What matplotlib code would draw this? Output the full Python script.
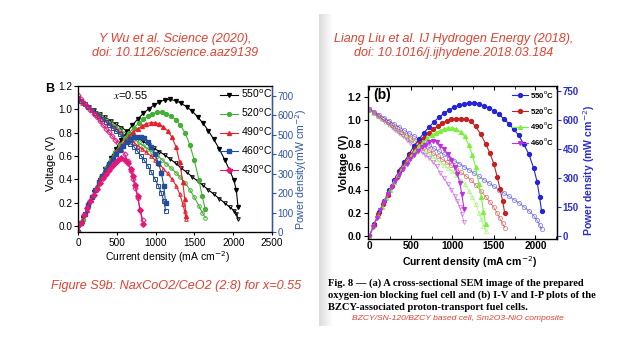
import numpy as np
import matplotlib.pyplot as plt

plt.rcParams['font.family'] = ['Liberation Sans', 'DejaVu Sans']

# ---- left chart: Wu et al. Science 2020, Fig. S9b (x=0.55) ----
wu_temps = ['550', '520', '490', '460', '430']
wu_i550 = [0, 70, 140, 210, 280, 350, 420, 490, 560, 630, 700, 770, 840, 910, 980, 1050, 1120,
           1190, 1260, 1330, 1400, 1470, 1540, 1610, 1680, 1750, 1820, 1890, 1960, 2010, 2040, 2063]
wu_v550 = [1.080, 1.050, 1.021, 0.991, 0.962, 0.932, 0.903, 0.873, 0.844, 0.814, 0.785, 0.755, 0.726,
           0.696, 0.666, 0.637, 0.607, 0.573, 0.536, 0.498, 0.460, 0.423, 0.385, 0.348, 0.310, 0.272,
           0.235, 0.197, 0.159, 0.132, 0.105, 0.062]
wu_p550 = [0, 74, 143, 208, 269, 326, 379, 428, 473, 513, 549, 581, 610, 633, 653, 669, 680,
           682, 675, 662, 644, 622, 593, 560, 521, 476, 428, 372, 312, 265, 214, 128]

wu_i520 = [0, 60, 120, 180, 240, 300, 360, 420, 480, 540, 600, 660, 720, 780, 840, 900, 960,
           1020, 1080, 1140, 1200, 1260, 1320, 1380, 1440, 1500, 1560, 1600, 1640]
wu_v520 = [1.080, 1.052, 1.024, 0.996, 0.968, 0.940, 0.913, 0.885, 0.857, 0.829, 0.801, 0.773, 0.745,
           0.717, 0.689, 0.661, 0.633, 0.604, 0.569, 0.532, 0.496, 0.458, 0.416, 0.370, 0.312, 0.245,
           0.170, 0.115, 0.072]
wu_p520 = [0, 63, 123, 179, 232, 282, 329, 372, 411, 448, 481, 510, 536, 559, 579, 595, 608,
           616, 615, 606, 595, 577, 549, 511, 449, 368, 265, 184, 118]

wu_i490 = [0, 55, 110, 165, 220, 275, 330, 385, 440, 495, 550, 605, 660, 715, 770, 825, 880,
           935, 990, 1045, 1100, 1155, 1210, 1265, 1310, 1350, 1375, 1390]
wu_v490 = [1.085, 1.057, 1.028, 1.000, 0.972, 0.944, 0.915, 0.887, 0.859, 0.831, 0.802, 0.774, 0.746,
           0.718, 0.689, 0.661, 0.633, 0.602, 0.568, 0.532, 0.492, 0.450, 0.403, 0.345, 0.275, 0.190,
           0.125, 0.060]
wu_p490 = [0, 58, 113, 165, 214, 260, 302, 341, 378, 411, 441, 468, 492, 513, 531, 545, 557,
           563, 562, 556, 541, 520, 488, 436, 360, 257, 172, 83]

wu_i460 = [0, 45, 90, 135, 180, 225, 270, 315, 360, 405, 450, 495, 540, 585, 630, 675, 720,
           765, 810, 855, 900, 945, 990, 1035, 1075, 1105, 1130]
wu_v460 = [1.100, 1.074, 1.048, 1.021, 0.995, 0.969, 0.943, 0.916, 0.890, 0.864, 0.838, 0.811, 0.785,
           0.759, 0.733, 0.706, 0.680, 0.642, 0.603, 0.563, 0.515, 0.462, 0.405, 0.345, 0.280, 0.215,
           0.130]
wu_p460 = [0, 48, 94, 138, 179, 218, 255, 289, 320, 350, 377, 401, 424, 444, 462, 477, 490,
           491, 488, 481, 464, 437, 401, 357, 301, 238, 147]

wu_i430 = [0, 40, 80, 120, 160, 200, 240, 280, 320, 360, 400, 440, 480, 520, 560,
           600, 640, 680, 710, 740, 770, 800, 835]
wu_v430 = [1.120, 1.088, 1.057, 1.025, 0.993, 0.961, 0.930, 0.898, 0.866, 0.835, 0.803, 0.771, 0.739,
           0.708, 0.676, 0.620, 0.555, 0.475, 0.405, 0.325, 0.240, 0.140, 0.050]
wu_p430 = [0, 44, 85, 123, 159, 192, 223, 251, 277, 300, 321, 339, 355, 368, 379,
           372, 355, 323, 288, 241, 185, 112, 42]

# ---- right chart: Liu et al. IJ Hydrogen Energy 2018, Fig. 8b ----
liu_temps = ['550', '520', '490', '460']
liu_i550 = [0, 60, 120, 180, 240, 300, 360, 420, 480, 540, 600, 660, 720, 780, 840, 900, 960, 1020,
            1080, 1140, 1200, 1260, 1320, 1380, 1440, 1500, 1560, 1620, 1680, 1740, 1800, 1860, 1920,
            1980, 2020, 2050, 2075]
liu_v550 = [1.100, 1.074, 1.048, 1.021, 0.995, 0.969, 0.943, 0.916, 0.890, 0.864, 0.838, 0.812, 0.785,
            0.759, 0.733, 0.707, 0.680, 0.654, 0.628, 0.602, 0.574, 0.546, 0.518, 0.489, 0.461, 0.432,
            0.404, 0.375, 0.347, 0.318, 0.290, 0.256, 0.222, 0.178, 0.140, 0.100, 0.062]
liu_p550 = [0, 64, 126, 184, 239, 291, 339, 385, 427, 467, 503, 536, 565, 592, 616, 636, 653, 667,
            678, 686, 689, 688, 684, 675, 664, 648, 630, 608, 583, 553, 522, 476, 426, 352, 283, 205, 129]

liu_i520 = [0, 55, 110, 165, 220, 275, 330, 385, 440, 495, 550, 605, 660, 715, 770, 825, 880, 935,
            990, 1045, 1100, 1160, 1220, 1280, 1340, 1400, 1450, 1500, 1540, 1575, 1605, 1630]
liu_v520 = [1.090, 1.063, 1.037, 1.010, 0.984, 0.957, 0.931, 0.904, 0.877, 0.851, 0.824, 0.798, 0.771,
            0.745, 0.718, 0.692, 0.665, 0.638, 0.612, 0.583, 0.553, 0.522, 0.490, 0.444, 0.395, 0.343,
            0.298, 0.250, 0.200, 0.155, 0.115, 0.075]
liu_p520 = [0, 58, 114, 167, 216, 263, 307, 348, 386, 421, 453, 483, 509, 533, 553, 571, 585, 597,
            606, 609, 608, 606, 598, 568, 529, 480, 432, 375, 308, 244, 185, 122]

liu_i490 = [0, 50, 100, 150, 200, 250, 300, 350, 400, 450, 500, 550, 600, 650, 700, 750, 800, 850,
            900, 950, 1000, 1050, 1100, 1150, 1200, 1240, 1280, 1320, 1350, 1375, 1400]
liu_v490 = [1.090, 1.064, 1.038, 1.011, 0.985, 0.959, 0.933, 0.906, 0.880, 0.854, 0.828, 0.801, 0.775,
            0.749, 0.723, 0.696, 0.670, 0.644, 0.618, 0.590, 0.560, 0.527, 0.490, 0.450, 0.392, 0.340,
            0.280, 0.206, 0.150, 0.092, 0.047]
liu_p490 = [0, 53, 104, 152, 197, 240, 280, 317, 352, 384, 414, 441, 465, 487, 506, 522, 536, 547,
            556, 561, 560, 553, 539, 518, 470, 422, 358, 272, 203, 127, 66]

liu_i460 = [0, 45, 90, 135, 180, 225, 270, 315, 360, 405, 450, 495, 540, 585, 630, 675, 720,
            765, 810, 855, 900, 945, 990, 1030, 1060, 1090, 1115, 1140]
liu_v460 = [1.100, 1.074, 1.047, 1.021, 0.994, 0.968, 0.941, 0.915, 0.888, 0.862, 0.835, 0.809, 0.782,
            0.756, 0.730, 0.703, 0.677, 0.643, 0.605, 0.548, 0.500, 0.452, 0.400, 0.350, 0.305, 0.255,
            0.195, 0.125]
liu_p460 = [0, 48, 94, 138, 179, 218, 254, 288, 320, 349, 376, 400, 422, 442, 460, 474, 487,
            492, 490, 469, 450, 427, 396, 361, 323, 278, 217, 143]

RED = '#e2402f'
W, H = 618, 341


def box(x0, y0, x1, y1):
    # pixel box of the reference -> figure fraction
    return [x0 / W, 1 - y1 / H, (x1 - x0) / W, (y1 - y0) / H]


def fx(x):
    return x / W


def fy(y):
    return 1 - y / H


fig = plt.figure(figsize=(6.18, 3.41), dpi=100)

# grey page edge of the scanned journal page
strip = fig.add_axes(box(319, 14, 332, 326))
strip.imshow(np.linspace(0.86, 1.0, 60)[None, :], cmap='gray', vmin=0, vmax=1, aspect='auto')
strip.axis('off')

# ================= left chart =================
wu_series = [
    (wu_i550, wu_v550, wu_p550, 'black', 'v'),
    (wu_i520, wu_v520, wu_p520, '#44b035', 'o'),
    (wu_i490, wu_v490, wu_p490, '#e8202a', '^'),
    (wu_i460, wu_v460, wu_p460, '#1f4e9c', 's'),
    (wu_i430, wu_v430, wu_p430, '#e2187a', 'D'),
]
axL = fig.add_axes(box(78, 86, 272, 232))
axL2 = axL.twinx()
handles = []
for (i, v, p, c, m), t in zip(wu_series, wu_temps):
    axL.plot(i, v, color=c, marker=m, ms=2.6, mfc='none', mew=0.7, lw=0.8)
    h, = axL2.plot(i, p, color=c, marker=m, ms=2.8, mfc=c, mec=c, lw=0.8)
    handles.append(h)

axL.set_xlim(0, 2500)
axL.set_ylim(-0.052, 1.2)
axL2.set_ylim(0, 751)
axL.set_xticks([0, 500, 1000, 1500, 2000, 2500])
axL.set_yticks(np.arange(0, 1.21, 0.2))
axL.set_yticklabels(['0.0', '0.2', '0.4', '0.6', '0.8', '1.0', '1.2'])
axL2.set_yticks(np.arange(0, 701, 100))
axL.tick_params(labelsize=7.2, length=3, width=0.8, pad=1)
axL.tick_params(axis='x', length=2.5, pad=1.8)
axL2.tick_params(labelsize=7.0, length=3, width=0.8, pad=1, colors='#2f55a4')
axL2.spines['right'].set_color('#2f55a4')
for s in axL.spines.values():
    s.set_linewidth(0.9)
axL2.spines['right'].set_linewidth(0.9)

axL2.legend(handles, [t + r'$^{\rm o}$C' for t in wu_temps], loc='upper right',
            bbox_to_anchor=(fx(273), fy(87)), bbox_transform=fig.transFigure,
            frameon=False, fontsize=7.5, handlelength=1.7, handletextpad=0.3,
            labelspacing=0.62, borderpad=0.1, borderaxespad=0)

fig.text(fx(50), fy(89), 'B', fontsize=9, fontweight='bold', ha='center', va='center')
fig.text(fx(130), fy(95), r'$x$=0.55', fontsize=8, ha='center', va='center', math_fontfamily='stix')
fig.text(fx(51), fy(163), 'Voltage (V)', fontsize=8, rotation=90, ha='center', va='center')
fig.text(fx(167), fy(257), r'Current density (mA cm$^{-2}$)', fontsize=7.5, ha='center', va='center')
fig.text(fx(301), fy(169), r'Power density(mW cm$^{-2}$)', fontsize=7.6, rotation=90,
         ha='center', va='center', color='#2f55a4')

fig.text(fx(175), fy(46), 'Y Wu et al. Science (2020),\ndoi: 10.1126/science.aaz9139',
         fontsize=9, style='italic', color=RED, ha='center', va='center', linespacing=1.2)
fig.text(fx(176), fy(286), 'Figure S9b: NaxCoO2/CeO2 (2:8) for x=0.55',
         fontsize=9.1, style='italic', color=RED, ha='center', va='center')

# ================= right chart =================
liu_series = [
    (liu_i550, liu_v550, liu_p550, '#2424d8', 'o'),
    (liu_i520, liu_v520, liu_p520, '#c42020', 'o'),
    (liu_i490, liu_v490, liu_p490, '#78f03c', '^'),
    (liu_i460, liu_v460, liu_p460, '#c030e0', 'v'),
]
axR = fig.add_axes(box(368, 86, 557, 239))
axR2 = axR.twinx()
handles = []
for (i, v, p, c, m), t in zip(liu_series, liu_temps):
    axR.plot(i, v, color=c, marker=m, ms=3, mfc='none', mew=0.6, lw=0.6, alpha=0.55)
    h, = axR2.plot(i, p, color=c, marker=m, ms=2.8, mfc=c, mec=c, lw=0.8)
    handles.append(h)

axR.set_xlim(-15, 2260)
axR.set_ylim(-0.022, 1.297)
axR2.set_ylim(-13, 777)
axR.set_xticks([0, 500, 1000, 1500, 2000])
axR.set_xticks(np.arange(0, 2251, 250), minor=True)
axR.set_yticks(np.arange(0, 1.21, 0.2))
axR.set_yticklabels(['0.0', '0.2', '0.4', '0.6', '0.8', '1.0', '1.2'])
axR2.set_yticks([0, 150, 300, 450, 600, 750])
axR.tick_params(labelsize=7.2, length=3, width=0.8, pad=1.5)
axR.tick_params(axis='x', which='both', top=True, direction='in')
axR.tick_params(axis='x', which='minor', length=2)
axR2.tick_params(labelsize=7.0, length=3, width=0.8, pad=1, colors='#2e2ed0')
for lab in axR.get_xticklabels() + axR.get_yticklabels() + axR2.get_yticklabels():
    lab.set_fontweight('bold')
for s in axR.spines.values():
    s.set_linewidth(0.9)
axR2.spines['right'].set_linewidth(0.9)

leg = axR2.legend(handles, [t + r'$^{\rm o}$C' for t in liu_temps], loc='upper right',
                  bbox_to_anchor=(fx(555), fy(88)), bbox_transform=fig.transFigure,
                  frameon=False, fontsize=5.6, handlelength=2.0, handletextpad=0.3,
                  labelspacing=0.62, borderpad=0.1, borderaxespad=0)
for tx in leg.get_texts():
    tx.set_fontweight('bold')

fig.text(fx(382), fy(95), '(b)', fontsize=10, fontweight='bold', ha='center', va='center')
fig.text(fx(344), fy(163), 'Voltage (V)', fontsize=7.8, fontweight='bold', rotation=90,
         ha='center', va='center')
fig.text(fx(470), fy(262), r'Current density (mA cm$^{-2}$)', fontsize=7.6, fontweight='bold',
         ha='center', va='center')
fig.text(fx(589), fy(170), r'Power density (mW cm$^{-2}$)', fontsize=7.6, fontweight='bold',
         rotation=90, ha='center', va='center', color='#2e2ed0')

fig.text(fx(454), fy(46), 'Liang Liu et al. IJ Hydrogen Energy (2018),\ndoi: 10.1016/j.ijhydene.2018.03.184',
         fontsize=9, style='italic', color=RED, ha='center', va='center', linespacing=1.2)

caption = ['Fig. 8 \u2014 (a) A cross-sectional SEM image of the prepared',
           'oxygen-ion blocking fuel cell and (b) I-V and I-P plots of the',
           'BZCY-associated proton-transport fuel cells.']
for k, line in enumerate(caption):
    fig.text(fx(328), fy(283 + 12.5 * k), line, fontsize=7.6, fontweight='bold',
             family='Liberation Serif', ha='left', va='center')
fig.text(fx(458), fy(318), 'BZCY/SN-120/BZCY based cell, Sm2O3-NiO composite',
         fontsize=6.1, style='italic', color=RED, ha='center', va='center')

fig.savefig('out.png', dpi=100)
